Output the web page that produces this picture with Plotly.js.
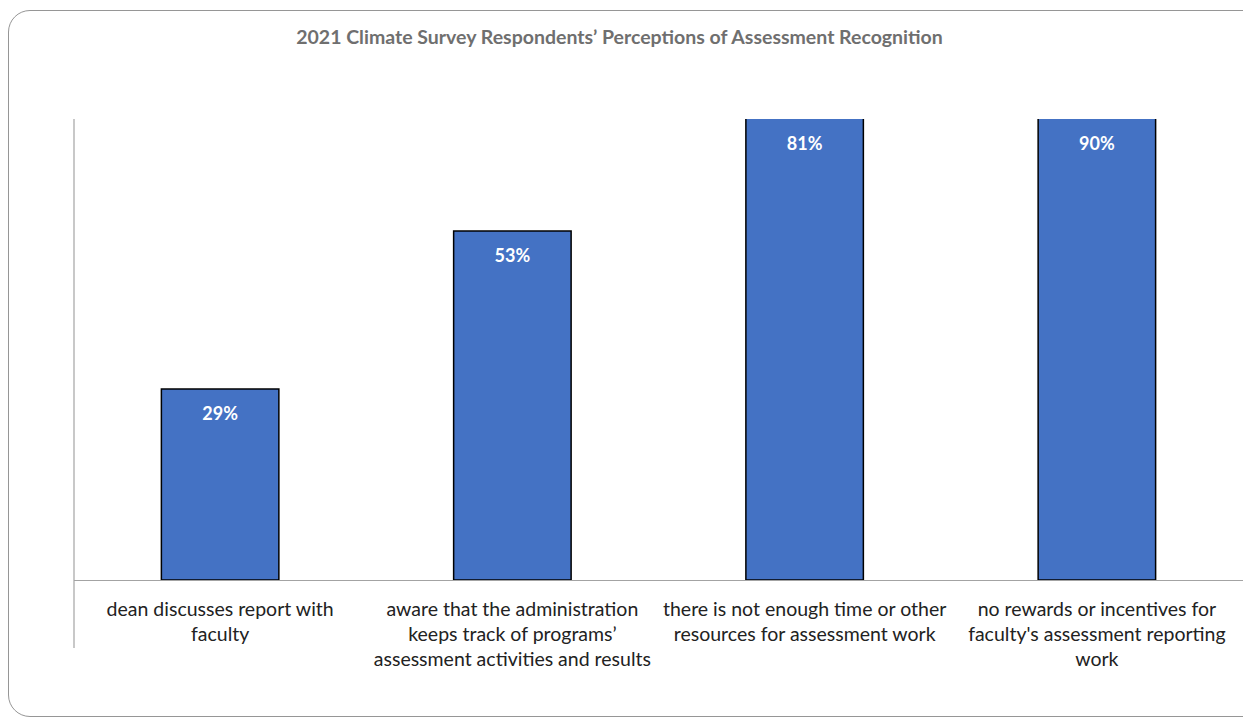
<!DOCTYPE html>
<html>
<head>
<meta charset="utf-8">
<script src="https://cdn.plot.ly/plotly-3.0.1.min.js"></script>
<style>
  html, body { margin: 0; padding: 0; width: 1243px; height: 720px; overflow: hidden; background: #fff; }
  #frame { position: absolute; left: 8px; top: 10px; width: 1260px; height: 707px; border: 1.5px solid #969696; border-radius: 22px; box-sizing: border-box; pointer-events: none; z-index: 5; }
  #chart { position: absolute; left: 0; top: 0; width: 1243px; height: 720px; }
</style>
</head>
<body>
<div id="frame"></div>
<div id="chart"></div>
<script>
const chartTitle = "2021 Climate Survey Respondents’ Perceptions of Assessment Recognition";
const categories = [
  "dean discusses report with<br>faculty",
  "aware that the administration<br>keeps track of programs’<br>assessment activities and results",
  "there is not enough time or other<br>resources for assessment work",
  "no rewards or incentives for<br>faculty's assessment reporting<br>work"
];
const percentages = [0.29, 0.53, 0.81, 0.90];
const labels = ["29%", "53%", "81%", "90%"];
const yTop = 0.70; // visible top of the value axis (taller bars are cut at the plot top)

const barTrace = {
  type: "bar",
  x: categories,
  y: percentages,
  marker: { color: "#4472C4", line: { color: "#000000", width: 1.5 } },
  hoverinfo: "none",
  cliponaxis: true
};

// value labels sit just inside the visible top of each bar
const labelTrace = {
  type: "scatter",
  mode: "markers+text",
  x: categories,
  y: percentages.map(v => Math.min(v, yTop)),
  text: labels,
  textposition: "bottom center",
  textfont: { family: "Lato, sans-serif", size: 18, color: "#ffffff", weight: "bold" },
  marker: { size: 26, opacity: 0 },
  hoverinfo: "none",
  cliponaxis: false
};

const layout = {
  width: 1243,
  height: 720,
  margin: { l: 74, r: 0, t: 119, b: 140, pad: 0 },
  paper_bgcolor: "rgba(0,0,0,0)",
  plot_bgcolor: "rgba(0,0,0,0)",
  title: {
    text: "<b>" + chartTitle + "</b>",
    font: { family: "Lato, sans-serif", size: 19.5, color: "#6f6f6f" },
    x: 619.5 / 1243, xanchor: "center", xref: "container",
    y: 1 - 37 / 720, yanchor: "middle", yref: "container"
  },
  bargap: 0.598,
  showlegend: false,
  xaxis: {
    type: "category",
    showline: true, linecolor: "#a3a3a3", linewidth: 1.2,
    showgrid: false, zeroline: false,
    ticks: "", ticklabelstandoff: 11,
    tickfont: { family: "Lato, sans-serif", size: 19.5, color: "#222222" },
    automargin: false
  },
  yaxis: {
    range: [0, yTop],
    showticklabels: false, showgrid: false, zeroline: false, showline: false,
    ticks: "", fixedrange: true
  },
  shapes: [
    { type: "line", xref: "paper", yref: "paper", x0: 0, x1: 0, y0: -0.1475, y1: 1,
      line: { color: "#a3a3a3", width: 1.2 } }
  ]
};

Plotly.newPlot("chart", [barTrace, labelTrace], layout, { displayModeBar: false, staticPlot: true });
</script>
</body>
</html>
